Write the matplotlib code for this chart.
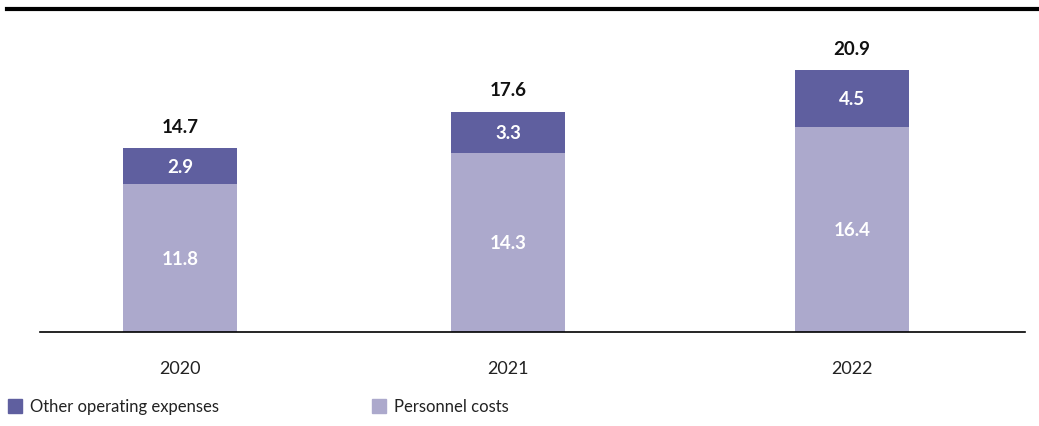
import matplotlib.pyplot as plt
from matplotlib.patches import Rectangle

years = ['2020', '2021', '2022']
personnel = [11.8, 14.3, 16.4]
other = [2.9, 3.3, 4.5]
totals = [14.7, 17.6, 20.9]

xpos = [0, 1, 2.05]
light = '#aca9cc'
dark = '#5f5f9f'

plt.rcParams['font.family'] = ['Lato', 'DejaVu Sans']

fig = plt.figure(figsize=(10.39, 4.27), dpi=100)
ax = fig.add_axes([40 / 1039, (427 - 333) / 427, 985 / 1039, 313 / 427])

w = 0.348
ax.bar(xpos, personnel, width=w, color=light)
ax.bar(xpos, other, width=w, bottom=personnel, color=dark)

for x, p, o, t in zip(xpos, personnel, other, totals):
    ax.text(x, p / 2, f'{p:.1f}', ha='center', va='center', color='white',
            fontsize=13.5, fontweight='bold')
    ax.text(x, p + o / 2, f'{o:.1f}', ha='center', va='center', color='white',
            fontsize=13.5, fontweight='bold')
    ax.text(x, t + 1.75, f'{t:.1f}', ha='center', va='center', color='#111111',
            fontsize=13.5, fontweight='bold')

ax.set_xlim(-0.427, 2.577)
ax.set_ylim(0, 25)
for s in ['top', 'right', 'left']:
    ax.spines[s].set_visible(False)
ax.spines['bottom'].set_linewidth(1.2)
ax.set_yticks([])
ax.set_xticks(xpos)
ax.set_xticklabels(years, fontsize=13, color='#222222')
ax.tick_params(axis='x', length=0, pad=20)

# thick rule across the top
fig.add_artist(plt.Line2D([7 / 1039, 1], [1 - 9.5 / 427, 1 - 9.5 / 427],
                          color='black', linewidth=3, transform=fig.transFigure))

# legend
for x0, col, label in [(8, dark, 'Other operating expenses'),
                       (372, light, 'Personnel costs')]:
    fig.add_artist(Rectangle((x0 / 1039, (427 - 414) / 427), 14 / 1039, 14 / 427,
                             color=col, transform=fig.transFigure))
    fig.text((x0 + 22) / 1039, (427 - 407) / 427, label, fontsize=12,
             va='center', ha='left', color='#222222')

fig.savefig('out.png', dpi=100)
